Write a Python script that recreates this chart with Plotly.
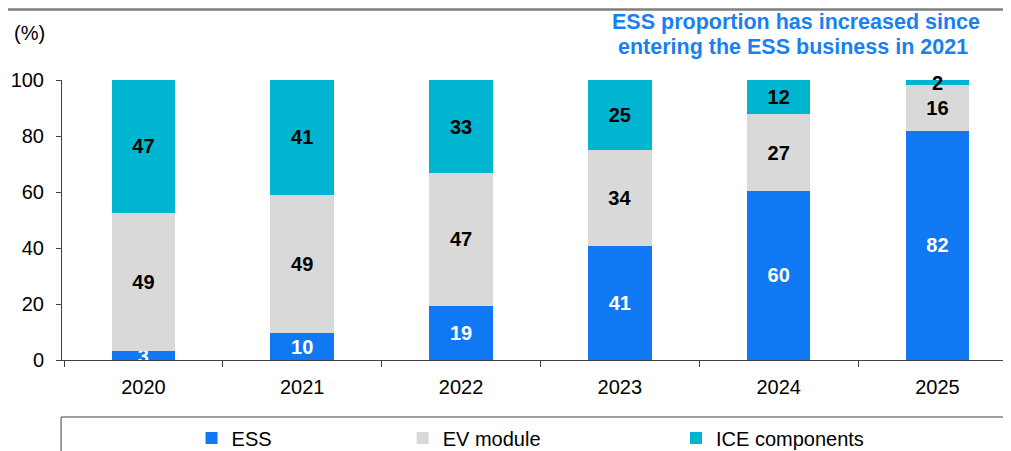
import plotly.graph_objects as go

years = ["2020", "2021", "2022", "2023", "2024", "2025"]
ess = [3.2, 9.6, 19.4, 40.7, 60.4, 81.8]
ev_module = [49.4, 49.4, 47.3, 34.4, 27.4, 16.4]
ice = [47.4, 41.0, 33.3, 24.9, 12.2, 1.8]
title_lines = ["ESS proportion has increased since", "entering the ESS business in 2021"]

FONT = "Liberation Sans, Arial, sans-serif"
C_ESS = "#0F78F2"
C_EV = "#D9D9D9"
C_ICE = "#00B5CF"

fig = go.Figure()
fig.add_trace(go.Bar(
    x=years, y=ess, name="ESS", marker=dict(color=C_ESS, line=dict(width=0)),
    texttemplate="%{y:.0f}", textposition="inside", insidetextanchor="middle",
    constraintext="none", textangle=0,
    textfont=dict(family=FONT, size=20, color="white", weight="bold"),
    legend="legend", cliponaxis=True,
))
fig.add_trace(go.Bar(
    x=years, y=ev_module, name="EV module", marker=dict(color=C_EV, line=dict(width=0)),
    texttemplate="%{y:.0f}", textposition="inside", insidetextanchor="middle",
    constraintext="none", textangle=0,
    textfont=dict(family=FONT, size=20, color="black", weight="bold"),
    legend="legend2", cliponaxis=False,
))
fig.add_trace(go.Bar(
    x=years, y=ice, name="ICE components", marker=dict(color=C_ICE, line=dict(width=0)),
    texttemplate="%{y:.0f}", textposition="inside", insidetextanchor="middle",
    constraintext="none", textangle=0,
    textfont=dict(family=FONT, size=20, color="black", weight="bold"),
    legend="legend3", cliponaxis=False,
))

leg_common = dict(orientation="h", yanchor="middle", xanchor="left",
                  y=-0.2786, font=dict(family=FONT, size=20, color="black"),
                  bgcolor="rgba(0,0,0,0)", borderwidth=0)

# page has an 8px body margin, so the figure is sized to fit the window
fig.update_layout(
    width=1003, height=443,
    margin=dict(l=54, r=0, t=72, b=91, autoexpand=False),
    paper_bgcolor="white", plot_bgcolor="white",
    barmode="stack", bargap=0.6,
    font=dict(family=FONT, size=20, color="black"),
    showlegend=True,
    legend=dict(x=0.1365, **leg_common),
    legend2=dict(x=0.3590, **leg_common),
    legend3=dict(x=0.6470, **leg_common),
    xaxis=dict(
        type="category", range=[-0.5126, 5.463], automargin=False,
        showline=True, linecolor="#404040", linewidth=1,
        ticks="outside", tickson="boundaries", ticklen=6, tickcolor="#404040",
        tickfont=dict(family=FONT, size=20, color="black"),
        showgrid=False, zeroline=False, ticklabelstandoff=9,
    ),
    yaxis=dict(
        range=[0, 100], dtick=20, tick0=0, automargin=False,
        showline=True, linecolor="#404040", linewidth=1,
        ticks="outside", ticklen=5, tickcolor="#404040",
        tickfont=dict(family=FONT, size=20, color="black"),
        showgrid=False, zeroline=False,
        ticklabelstandoff=8,
    ),
)

# top rule line
fig.add_shape(type="line", xref="paper", yref="paper",
              x0=-0.07, x1=1.01, y0=1.2515, y1=1.2515,
              line=dict(color="#7F7F7F", width=2.5))
# legend box
fig.add_shape(type="rect", xref="paper", yref="paper",
              x0=-0.001, x1=1.02, y0=-0.2036, y1=-0.40,
              line=dict(color="#404040", width=1), fillcolor="rgba(0,0,0,0)")

fig.add_annotation(text="(%)", xref="paper", yref="paper",
                   x=-0.0527, y=1.168, xanchor="left", yanchor="middle",
                   showarrow=False, font=dict(family=FONT, size=20, color="black"))
for txt, xx, yy in zip(title_lines, [0.7735, 0.7708], [1.207, 1.118]):
    fig.add_annotation(text=txt, xref="paper", yref="paper", x=xx, y=yy,
                       xanchor="center", yanchor="middle", showarrow=False,
                       font=dict(family=FONT, size=21.5, color="#1A7FF0", weight="bold"))

fig.write_html("out.html")
